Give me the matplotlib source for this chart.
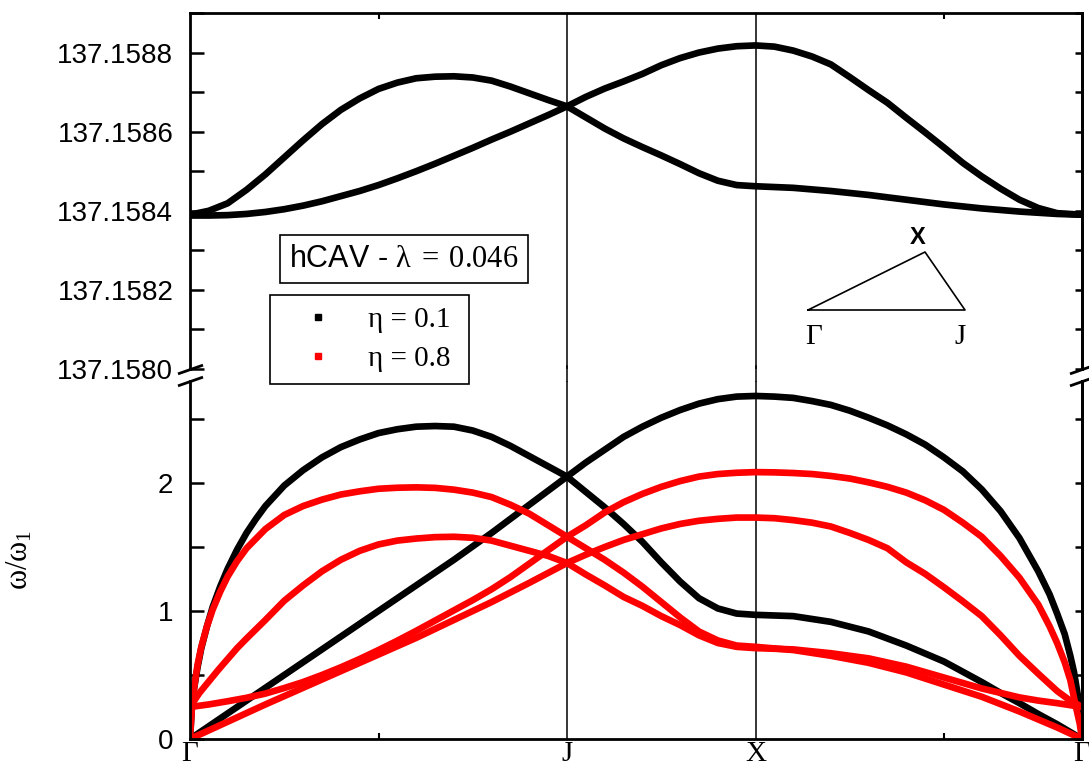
import matplotlib
matplotlib.use('Agg')
import matplotlib.pyplot as plt
from matplotlib.lines import Line2D
from matplotlib.ticker import FixedLocator, NullFormatter

plt.rcParams['font.family'] = ['Liberation Sans', 'DejaVu Sans']
plt.rcParams['mathtext.fontset'] = 'custom'
plt.rcParams['mathtext.rm'] = 'Liberation Serif'
plt.rcParams['mathtext.it'] = 'Liberation Serif:italic'

# high-symmetry points along the path  Gamma -> J -> X -> Gamma
path_ticks = [0.0, 1.0, 1.5, 2.366]
path_labels = ['Γ', 'J', 'X', 'Γ']

# upper branches (eta = 0.1)
top1_x = [0, 0.05, 0.1, 0.15, 0.2, 0.25, 0.3, 0.35, 0.4, 0.45, 0.5, 0.55, 0.6, 0.65, 0.7, 0.75,
          0.8, 0.85, 0.9, 0.95, 1.0,
          1.05, 1.1, 1.15, 1.2, 1.25, 1.3, 1.35, 1.4, 1.45, 1.5,
          1.6, 1.7, 1.8, 1.9, 2.0, 2.1, 2.2, 2.3, 2.366]
top1_y = [137.158390, 137.158400, 137.158419, 137.158453, 137.158492, 137.158535, 137.158578,
          137.158619, 137.158655, 137.158684, 137.158708, 137.158724, 137.158735, 137.158739,
          137.158740, 137.158737, 137.158729, 137.158714, 137.158697, 137.158680, 137.158664,
          137.158636, 137.158608, 137.158583, 137.158561, 137.158540, 137.158518, 137.158495,
          137.158476, 137.158465, 137.158462,
          137.158458, 137.158450, 137.158440, 137.158428, 137.158416, 137.158406, 137.158398,
          137.158392, 137.158390]
top2_x = [0, 0.05, 0.1, 0.15, 0.2, 0.25, 0.3, 0.35, 0.4, 0.45, 0.5, 0.55, 0.6, 0.65, 0.7, 0.75,
          0.8, 0.85, 0.9, 0.95, 1.0,
          1.05, 1.1, 1.15, 1.2, 1.25, 1.3, 1.35, 1.4, 1.45, 1.5,
          1.55, 1.6, 1.65, 1.7, 1.75, 1.8, 1.85, 1.9, 1.95, 2.0, 2.05, 2.1, 2.15, 2.2, 2.25,
          2.3, 2.366]
top2_y = [137.158388, 137.158388, 137.158389, 137.158392, 137.158397, 137.158404, 137.158413,
          137.158424, 137.158437, 137.158450, 137.158465, 137.158482, 137.158500, 137.158519,
          137.158539, 137.158559, 137.158580, 137.158600, 137.158621, 137.158642, 137.158664,
          137.158688, 137.158709, 137.158727, 137.158746, 137.158768, 137.158786, 137.158800,
          137.158810, 137.158816, 137.158818,
          137.158815, 137.158805, 137.158790, 137.158770, 137.158738, 137.158705, 137.158673,
          137.158635, 137.158598, 137.158560, 137.158521, 137.158487, 137.158456, 137.158428,
          137.158407, 137.158394, 137.158390]

# lower branches, eta = 0.1 (black)
b1_x = [0, 0.005, 0.01, 0.02, 0.03, 0.045, 0.06, 0.08, 0.1, 0.125, 0.15, 0.175, 0.2, 0.25, 0.3,
        0.35, 0.4, 0.45, 0.5, 0.55, 0.6, 0.65, 0.7, 0.75, 0.8, 0.85, 0.9, 0.95, 1.0,
        1.05, 1.1, 1.15, 1.2, 1.25, 1.3, 1.35, 1.4, 1.45, 1.5,
        1.6, 1.7, 1.8, 1.9, 2.0, 2.05, 2.1, 2.15, 2.2, 2.25, 2.3, 2.366]
b1_y = [0, 0.25, 0.38, 0.56, 0.71, 0.88, 1.03, 1.19, 1.33, 1.48, 1.61, 1.72, 1.82, 1.98, 2.10,
        2.20, 2.28, 2.34, 2.39, 2.42, 2.44, 2.445, 2.44, 2.41, 2.36, 2.29, 2.21, 2.13, 2.05,
        1.93, 1.81, 1.68, 1.54, 1.38, 1.23, 1.10, 1.02, 0.98, 0.97,
        0.96, 0.915, 0.84, 0.73, 0.605, 0.525, 0.445, 0.36, 0.28, 0.195, 0.115, 0]
b2_x = [0, 0.1, 0.2, 0.3, 0.4, 0.5, 0.6, 0.7, 0.8, 0.9, 1.0,
        1.05, 1.1, 1.15, 1.2, 1.25, 1.3, 1.35, 1.4, 1.45, 1.5,
        1.55, 1.6, 1.65, 1.7, 1.75, 1.8, 1.85, 1.9, 1.95, 2.0, 2.05, 2.1, 2.15, 2.2, 2.25,
        2.28, 2.3, 2.32, 2.335, 2.345, 2.355, 2.362, 2.366]
b2_y = [0, 0.2, 0.4, 0.6, 0.8, 1.0, 1.2, 1.4, 1.61, 1.83, 2.05,
        2.16, 2.26, 2.36, 2.44, 2.51, 2.57, 2.62, 2.655, 2.675, 2.68,
        2.675, 2.665, 2.64, 2.61, 2.565, 2.51, 2.45, 2.38, 2.30, 2.20, 2.09, 1.95, 1.78, 1.57,
        1.31, 1.13, 0.98, 0.82, 0.65, 0.52, 0.34, 0.18, 0]

# lower branches, eta = 0.8 (red)
r1_x = [0, 0.005, 0.01, 0.02, 0.03, 0.045, 0.06, 0.08, 0.1, 0.125, 0.15, 0.2, 0.25, 0.3, 0.35,
        0.4, 0.45, 0.5, 0.55, 0.6, 0.65, 0.7, 0.75, 0.8, 0.85, 0.9, 0.95, 1.0,
        1.05, 1.1, 1.15, 1.2, 1.25, 1.3, 1.35, 1.4, 1.45, 1.5,
        1.6, 1.7, 1.8, 1.9, 2.0, 2.1, 2.2, 2.3, 2.366]
r1_y = [0, 0.24, 0.38, 0.58, 0.72, 0.88, 1.01, 1.15, 1.27, 1.39, 1.49, 1.64, 1.75, 1.82, 1.87,
        1.91, 1.935, 1.955, 1.963, 1.966, 1.962, 1.948, 1.925, 1.89, 1.83, 1.76, 1.67, 1.58,
        1.49, 1.40, 1.30, 1.19, 1.07, 0.95, 0.84, 0.77, 0.73, 0.72,
        0.695, 0.65, 0.595, 0.52, 0.425, 0.33, 0.215, 0.09, 0]
r2_x = [0, 0.025, 0.05, 0.075, 0.1, 0.125, 0.15, 0.2, 0.25, 0.3, 0.35, 0.4, 0.45, 0.5, 0.55,
        0.6, 0.65, 0.7, 0.75, 0.8, 0.85, 0.9, 0.95, 1.0,
        1.05, 1.1, 1.15, 1.2, 1.25, 1.3, 1.35, 1.4, 1.45, 1.5,
        1.6, 1.7, 1.8, 1.9, 2.0, 2.1, 2.2, 2.25, 2.3, 2.366]
r2_y = [0.25, 0.36, 0.45, 0.54, 0.625, 0.71, 0.785, 0.93, 1.08, 1.20, 1.31, 1.40, 1.47, 1.52,
        1.55, 1.566, 1.577, 1.58, 1.572, 1.55, 1.51, 1.47, 1.43, 1.375,
        1.285, 1.20, 1.11, 1.04, 0.96, 0.89, 0.81, 0.75, 0.72, 0.71,
        0.70, 0.67, 0.63, 0.565, 0.48, 0.395, 0.325, 0.30, 0.28, 0.25]
r3_x = [0, 0.05, 0.1, 0.15, 0.2, 0.25, 0.3, 0.35, 0.4, 0.45, 0.5, 0.55, 0.6, 0.65, 0.7, 0.75,
        0.8, 0.85, 0.9, 0.95, 1.0,
        1.05, 1.1, 1.15, 1.2, 1.25, 1.3, 1.35, 1.4, 1.45, 1.5,
        1.55, 1.6, 1.65, 1.7, 1.75, 1.8, 1.85, 1.9, 1.95, 2.0, 2.05, 2.1, 2.15, 2.2, 2.25,
        2.28, 2.3, 2.32, 2.335, 2.35, 2.36, 2.366]
r3_y = [0.25, 0.27, 0.295, 0.322, 0.355, 0.398, 0.445, 0.50, 0.56, 0.625, 0.695, 0.768, 0.845,
        0.925, 1.005, 1.085, 1.17, 1.265, 1.37, 1.475, 1.58,
        1.67, 1.77, 1.85, 1.915, 1.97, 2.015, 2.05, 2.07, 2.08, 2.085,
        2.083, 2.078, 2.07, 2.055, 2.035, 2.005, 1.97, 1.925, 1.865, 1.79, 1.69, 1.58, 1.43,
        1.26, 1.05, 0.88, 0.75, 0.60, 0.46, 0.25, 0.12, 0]
r4_x = [0, 0.1, 0.2, 0.3, 0.4, 0.5, 0.6, 0.7, 0.8, 0.9, 1.0,
        1.05, 1.1, 1.15, 1.2, 1.25, 1.3, 1.35, 1.4, 1.45, 1.5,
        1.55, 1.6, 1.65, 1.7, 1.75, 1.8, 1.85, 1.9, 1.95, 2.0, 2.05, 2.1, 2.15, 2.2, 2.25,
        2.3, 2.33, 2.366]
r4_y = [0, 0.135, 0.27, 0.40, 0.53, 0.66, 0.79, 0.93, 1.07, 1.22, 1.375,
        1.44, 1.50, 1.555, 1.60, 1.645, 1.68, 1.705, 1.72, 1.73, 1.73,
        1.725, 1.71, 1.69, 1.66, 1.61, 1.555, 1.49, 1.38, 1.29, 1.185, 1.075, 0.96, 0.81, 0.65,
        0.51, 0.375, 0.31, 0.25]

top_ticks = [137.1580, 137.1582, 137.1584, 137.1586, 137.1588]
top_minor = [137.1581, 137.1583, 137.1585, 137.1587, 137.1589]
bot_ticks = [0, 1, 2]
bot_minor = [0.5, 1.5, 2.5]
x_minor = [0.5, 2.0]

W, H = 1089, 776
fig = plt.figure(figsize=(W / 100, H / 100), dpi=100)
ax_top = fig.add_axes([190 / W, 1 - 369 / H, 892 / W, 356 / H])
ax_bot = fig.add_axes([190 / W, 1 - 739 / H, 892 / W, 358.4 / H])

lw = 4.8
for xs, ys in [(top1_x, top1_y), (top2_x, top2_y)]:
    ax_top.plot(xs, ys, color='black', lw=lw, solid_joinstyle='round')
for xs, ys in [(b1_x, b1_y), (b2_x, b2_y)]:
    ax_bot.plot(xs, ys, color='black', lw=lw, solid_joinstyle='round')
for xs, ys in [(r1_x, r1_y), (r2_x, r2_y), (r3_x, r3_y), (r4_x, r4_y)]:
    ax_bot.plot(xs, ys, color='#ff0000', lw=lw, solid_joinstyle='round')

for ax in (ax_top, ax_bot):
    ax.set_xlim(0, 2.366)
    for s in ax.spines.values():
        s.set_linewidth(2.0)
    for xv in path_ticks[1:3]:
        ax.axvline(xv, color='black', lw=1.1, zorder=0.5)
# bridge the vertical lines across the axis break
for xv in path_ticks[1:3]:
    ax_bot.axvline(xv, ymin=1.0, ymax=1.04, color='black', lw=1.1, clip_on=False)

ax_top.set_ylim(137.1580, 137.15890)
ax_bot.set_ylim(0, 2.8)
ax_top.spines['bottom'].set_visible(False)
ax_bot.spines['top'].set_visible(False)

# y ticks
ax_top.set_yticks(top_ticks)
ax_top.set_yticklabels(['%.4f' % t for t in top_ticks])
ax_top.yaxis.set_minor_locator(FixedLocator(top_minor))
ax_bot.set_yticks(bot_ticks)
ax_bot.set_yticklabels([str(t) for t in bot_ticks])
ax_bot.yaxis.set_minor_locator(FixedLocator(bot_minor))
for ax in (ax_top, ax_bot):
    ax.tick_params(axis='y', which='both', direction='in', length=10, width=1.8,
                   left=True, right=False, labelsize=20, pad=12)
    sec = ax.secondary_yaxis('right')
    sec.set_yticks(ax.get_yticks())
    sec.yaxis.set_minor_locator(FixedLocator(ax.yaxis.get_minorticklocs()))
    sec.yaxis.set_major_formatter(NullFormatter())
    sec.tick_params(axis='y', which='both', direction='in', length=5, width=1.8)
    sec.spines['right'].set_linewidth(2.0)

# x ticks
ax_top.xaxis.tick_top()
ax_top.set_xticks([])
ax_top.xaxis.set_minor_locator(FixedLocator(x_minor))
ax_top.tick_params(axis='x', which='minor', direction='in', length=4, width=1.5, top=True, bottom=False)
ax_bot.set_xticks(path_ticks)
ax_bot.set_xticklabels(path_labels, fontfamily='Liberation Serif', fontsize=21)
ax_bot.xaxis.set_minor_locator(FixedLocator(x_minor))
ax_bot.tick_params(axis='x', which='major', length=0, pad=1.5)
ax_bot.tick_params(axis='x', which='minor', direction='in', length=4, width=1.5)

ax_bot.set_ylabel('ω/ω$_\\mathrm{1}$', fontfamily='Liberation Serif', fontsize=22)
ax_bot.yaxis.set_label_coords(-0.174, 0.5)

# axis break marks
brk = dict(marker=[(-1, -0.35), (1, 0.35)], markersize=18, linestyle='none',
           color='black', mec='black', mew=2, clip_on=False)
ax_top.plot([0, 1], [0, 0], transform=ax_top.transAxes, **brk)
ax_bot.plot([0, 1], [1, 1], transform=ax_bot.transAxes, **brk)

# title box
fig.text(404 / W, 1 - 259 / H, r'hCAV - $\mathrm{\lambda\;=\;0.046}$', fontsize=22,
         ha='center', va='center',
         bbox=dict(boxstyle='square,pad=0.3', fc='white', ec='black', lw=1.2))

# legend
handles = [Line2D([], [], marker='s', ls='none', color='black', markersize=4.5),
           Line2D([], [], marker='s', ls='none', color='#ff0000', markersize=4.5)]
leg = fig.legend(handles, ['η = 0.1 ', 'η = 0.8 '], loc='upper left',
                 bbox_to_anchor=(270 / W, 1 - 295 / H), borderaxespad=0,
                 prop={'family': 'Liberation Serif', 'size': 21},
                 frameon=True, fancybox=False, edgecolor='black', framealpha=1,
                 handlelength=2.5, handletextpad=0.46, labelspacing=0.45, borderpad=0.39)
leg.get_frame().set_linewidth(1.2)

# Brillouin-zone triangle inset
tri_px = [(808, 310), (965, 310), (925, 252), (808, 310)]
fig.add_artist(Line2D([p[0] / W for p in tri_px], [1 - p[1] / H for p in tri_px],
                      color='black', lw=1.2, transform=fig.transFigure))
fig.text(918 / W, 1 - 237 / H, 'X', fontsize=17, fontweight='bold', ha='center', va='center')
fig.text(814 / W, 1 - 337 / H, 'Γ', fontsize=21, fontfamily='Liberation Serif', ha='center', va='center')
fig.text(960 / W, 1 - 337 / H, 'J', fontsize=21, fontfamily='Liberation Serif', ha='center', va='center')

fig.savefig('out.png', dpi=100)
